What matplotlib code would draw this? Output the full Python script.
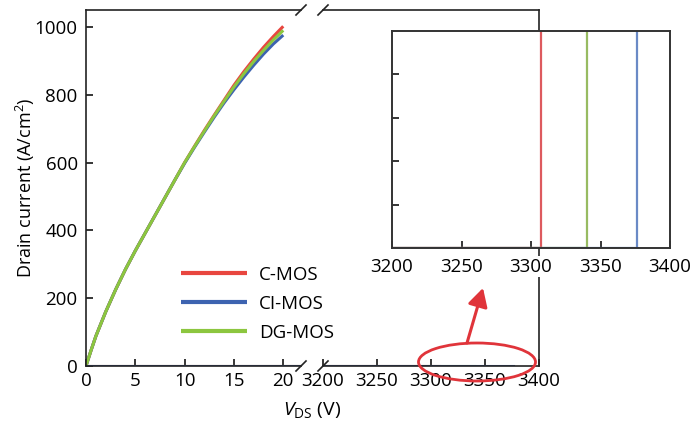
import matplotlib.pyplot as plt
from matplotlib.patches import Ellipse, FancyArrowPatch

plt.rcParams['font.family'] = ['Open Sans', 'DejaVu Sans']
plt.rcParams['mathtext.fontset'] = 'custom'
plt.rcParams['mathtext.rm'] = 'Open Sans'
plt.rcParams['mathtext.it'] = 'Open Sans:italic'
plt.rcParams['font.size'] = 13.5

# on-state sweep (A/cm2)
vds_on = [0, 0.5, 1, 2, 3, 4, 5, 6, 7, 8, 9, 10, 11, 12, 13, 14, 15, 16, 17, 18, 19, 20]
j_cmos = [0, 45, 88, 160, 225, 285, 340, 392, 444, 496, 548, 600, 648, 695, 740, 784, 828, 868, 905, 940, 972, 1002]
j_cimos = [0, 45, 88, 160, 225, 285, 340, 392, 444, 496, 548, 598, 645, 690, 734, 776, 815, 852, 887, 920, 950, 976]
j_dgmos = [0, 45, 88, 160, 225, 285, 340, 392, 444, 496, 548, 600, 647, 693, 738, 781, 823, 862, 898, 931, 962, 990]

# breakdown voltages (V)
bv_cmos = 3307
bv_cimos = 3376
bv_dgmos = 3340

names = ['C-MOS', 'CI-MOS', 'DG-MOS']
colors = ['#e8463f', '#3d63b0', '#8cc63f']
inset_colors = ['#dd5a5e', '#6a8ac6', '#98bb62']

W, H = 692, 428
fig = plt.figure(figsize=(W / 100, H / 100), dpi=100)


def px(x0, y0, x1, y1):
    return [x0 / W, 1 - y1 / H, (x1 - x0) / W, (y1 - y0) / H]


ax1 = fig.add_axes(px(86, 10, 301, 366))
ax2 = fig.add_axes(px(323, 10, 539, 366))
axin = fig.add_axes(px(392, 31, 670, 248))

ylim = (0, 1050)

# forward curves
lines = []
for j, c, n in [(j_cmos, colors[0], names[0]), (j_cimos, colors[1], names[1]),
                (j_dgmos, colors[2], names[2])]:
    ln, = ax1.plot(vds_on, j, color=c, lw=2.2, label=n, solid_capstyle='butt')
    lines.append(ln)

# blocking: zero current up to breakdown
for bv, c in [(bv_cmos, colors[0]), (bv_dgmos, colors[2]), (bv_cimos, colors[1])]:
    ax1.plot([0, bv], [0, 0], color=c, lw=2.2)
    ax2.plot([0, bv], [0, 0], color=c, lw=2.2)

ax1.set_xlim(0, 21.8)
ax2.set_xlim(3200, 3400)
for a in (ax1, ax2):
    a.set_ylim(*ylim)
    a.tick_params(direction='in', length=5, width=1.1)
    a.tick_params(axis='x', pad=4)
    a.tick_params(axis='y', pad=6)
    for s in a.spines.values():
        s.set_linewidth(1.2)
        s.set_color('#222222')

ax1.spines['right'].set_visible(False)
ax2.spines['left'].set_visible(False)
ax1.set_xticks([0, 5, 10, 15, 20])
ax1.set_yticks([0, 200, 400, 600, 800, 1000])
ax2.set_xticks([3200, 3250, 3300, 3350, 3400])
ax2.set_yticks([])
ax1.set_ylabel('Drain current (A/cm$^2$)', fontsize=13, labelpad=-2)

# break marks
d = 5
for xp in (301, 323):
    for yp in (10, 366):
        fig.add_artist(plt.Line2D([(xp - d) / W, (xp + d) / W],
                                  [1 - (yp + d) / H, 1 - (yp - d) / H],
                                  color='#222222', lw=1.2))

fig.text(312 / W, 1 - 410 / H, r'$V_{\rm DS}$ (V)', ha='center', va='center', fontsize=14)

leg = fig.legend(handles=lines, loc='upper left', bbox_to_anchor=(181 / W, 1 - 266 / H),
                 frameon=False, handlelength=3.5, handletextpad=0.65, labelspacing=0.58,
                 borderaxespad=0, borderpad=0)
for line in leg.get_lines():
    line.set_linewidth(3)

# zoomed view of breakdown
for bv, c in [(bv_cmos, inset_colors[0]), (bv_dgmos, inset_colors[2]), (bv_cimos, inset_colors[1])]:
    axin.plot([3200, bv, bv], [0, 0, 1.2], color=c, lw=1.6)
axin.plot([3200, bv_cimos], [0, 0], color=colors[1], lw=2)
axin.set_xlim(3200, 3400)
axin.set_ylim(0, 1)
axin.set_xticks([3200, 3250, 3300, 3350, 3400])
axin.set_yticks([0.2, 0.4, 0.6, 0.8])
axin.set_yticklabels([])
axin.tick_params(direction='in', length=5, width=1.1, pad=7)
for s in axin.spines.values():
    s.set_linewidth(1.4)
    s.set_color('#333333')
for lbl in axin.get_xticklabels():
    lbl.set_bbox(dict(facecolor='white', edgecolor='none', pad=1))

# highlight around the breakdown region
ell = Ellipse((477 / W, 1 - 362 / H), 117 / W, 38 / H, transform=fig.transFigure,
              fill=False, edgecolor='#e0343a', lw=2)
fig.add_artist(ell)
arr = FancyArrowPatch((467 / W, 1 - 343 / H), (483 / W, 1 - 288 / H),
                      transform=fig.transFigure, arrowstyle='-|>,head_length=5.5,head_width=3',
                      color='#e0343a', lw=2.2, mutation_scale=2, shrinkA=0, shrinkB=0)
fig.add_artist(arr)

fig.savefig('out.png', dpi=100)
